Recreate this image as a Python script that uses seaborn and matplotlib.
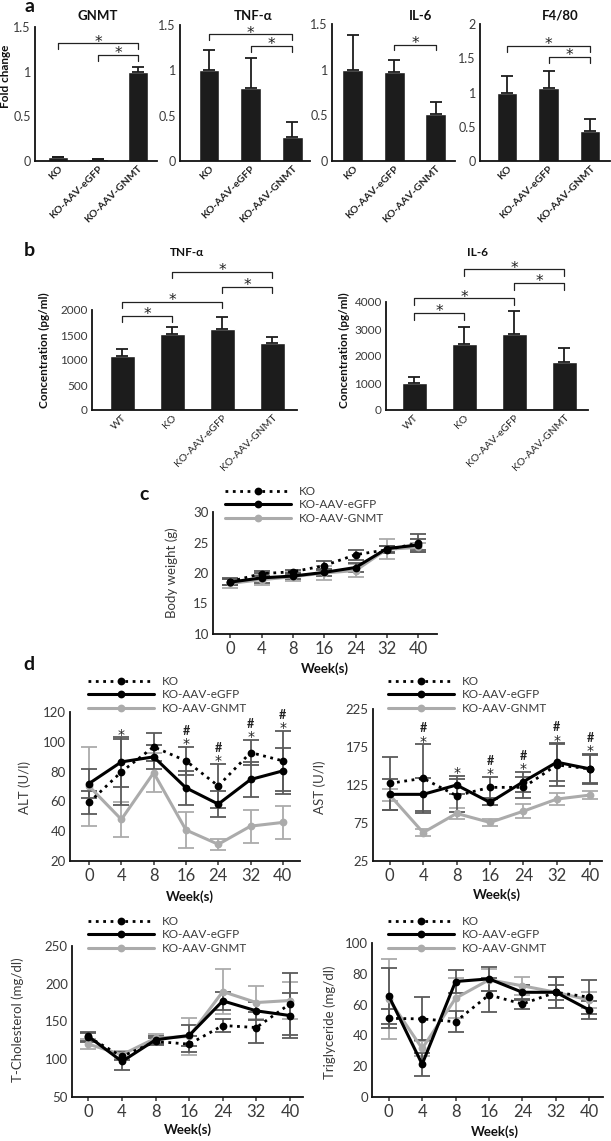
import numpy as np
import seaborn as sns
import matplotlib.pyplot as plt
from matplotlib.lines import Line2D

# ---- data ----
a_groups = ['KO', 'KO-AAV-eGFP', 'KO-AAV-GNMT']
gnmt_fc = [0.04, 0.02, 1.0]
gnmt_err = [0.01, 0.005, 0.05]
tnf_fc = [1.0, 0.81, 0.27]
tnf_err = [0.22, 0.33, 0.16]
il6_fc = [1.0, 0.97, 0.51]
il6_err = [0.38, 0.14, 0.14]
f480_fc = [1.0, 1.06, 0.44]
f480_err = [0.24, 0.25, 0.18]

b_groups = ['WT', 'KO', 'KO-AAV-eGFP', 'KO-AAV-GNMT']
tnf_conc = [1080, 1520, 1630, 1340]
tnf_conc_err = [140, 140, 240, 130]
il6_conc = [1000, 2460, 2810, 1790]
il6_conc_err = [210, 600, 850, 500]

# significance brackets: (group i, group j, height)
gnmt_sig = [(0, 2, 1.32), (1, 2, 1.19)]
tnf_sig = [(0, 2, 1.40), (1, 2, 1.27)]
il6_sig = [(1, 2, 1.27)]
f480_sig = [(0, 2, 1.68), (1, 2, 1.52)]
tnf_conc_sig = [(0, 1, 1880), (0, 2, 2170), (2, 3, 2470), (1, 3, 2760)]
il6_conc_sig = [(0, 1, 3600), (0, 2, 4140), (2, 3, 4710), (1, 3, 5210)]

weeks = ['0', '4', '8', '16', '24', '32', '40']
series = ['KO', 'KO-AAV-eGFP', 'KO-AAV-GNMT']

bw_ko = [18.6, 19.9, 20.2, 21.2, 23.0, 23.8, 24.9]
bw_ko_err = [0.5, 0.4, 0.3, 0.7, 0.8, 0.6, 1.5]
bw_egfp = [18.5, 19.2, 19.5, 20.1, 20.9, 24.0, 24.6]
bw_egfp_err = [0.5, 0.8, 0.5, 0.6, 0.8, 0.5, 0.9]
bw_gnmt = [18.3, 18.9, 19.4, 20.0, 20.4, 23.9, 24.2]
bw_gnmt_err = [0.7, 0.8, 0.7, 1.1, 1.1, 1.6, 0.7]

alt_ko = [59.3, 79.8, 96.6, 87.2, 70.4, 92.8, 87.2]
alt_ko_err = [7.5, 22, 9.5, 9.5, 15, 8.7, 20]
alt_egfp = [72.0, 86.5, 89.9, 69.1, 58.2, 74.7, 80.5]
alt_egfp_err = [9.5, 16.5, 8, 11.5, 9, 12, 15.5]
alt_gnmt = [70.2, 47.9, 79.2, 40.8, 31.2, 43.4, 45.9]
alt_gnmt_err = [26.5, 12, 13, 12, 3.5, 11, 11]
alt_marks = ['', '*', '', '#*', '#*', '#*', '#*']

ast_ko = [127.2, 133.8, 110.9, 121.9, 121.9, 151.4, 146.1]
ast_ko_err = [35, 45, 22, 14, 14, 28, 20]
ast_egfp = [112.7, 112.7, 125.0, 102.1, 129.4, 155.0, 146.1]
ast_egfp_err = [20, 22, 12, 4, 13, 25, 18]
ast_gnmt = [111.8, 62.4, 87.6, 75.7, 90.6, 106.5, 111.8]
ast_gnmt_err = [8, 5, 7, 5, 9, 8, 5]
ast_marks = ['', '#*', '*', '#*', '#*', '#*', '#*']

tc_ko = [129.3, 103.7, 123.6, 120.0, 144.7, 142.0, 173.3]
tc_ko_err = [6, 5, 5, 11, 8, 21, 41]
tc_egfp = [130.2, 97.1, 125.8, 131.5, 177.3, 164.1, 157.9]
tc_egfp_err = [6, 12, 5, 14, 12, 12, 30]
tc_gnmt = [120.0, 106.0, 128.0, 130.2, 189.6, 175.1, 177.8]
tc_gnmt_err = [7, 5, 6, 25, 30, 22, 25]

tg_ko = [51.1, 50.7, 48.9, 66.3, 60.4, 68.0, 64.8]
tg_ko_err = [6, 14, 7, 11, 3.5, 5, 11]
tg_egfp = [65.7, 21.3, 75.0, 76.7, 68.0, 68.0, 56.5]
tg_egfp_err = [18, 7.5, 7.5, 8, 5, 10, 6]
tg_gnmt = [63.7, 31.5, 64.1, 76.1, 72.2, 68.0, 63.0]
tg_gnmt_err = [26, 5, 13, 7, 6, 10, 5]

# ---- style ----
sns.set_style('ticks')
plt.rcParams['font.family'] = ['Lato', 'DejaVu Sans']
BAR = '#1c1c1c'
TXT = '#3a3a3a'
GRAY = '#ababab'
DARK_ERR = '#5a5a5a'
STAR = dict(family='DejaVu Sans', color='#222222')

W, H = 611, 1141
fig = plt.figure(figsize=(W / 100, H / 100), dpi=100)


def rect(l, r, t, b):
    return [l / W, 1 - b / H, (r - l) / W, (b - t) / H]


def ftext(x, y, s, **kw):
    kw.setdefault('ha', 'center')
    kw.setdefault('va', 'center')
    kw.setdefault('color', '#111111')
    fig.text(x / W, 1 - y / H, s, **kw)


def style_axes(ax, ysize):
    sns.despine(ax=ax)
    for s in ['left', 'bottom']:
        ax.spines[s].set_linewidth(1.3)
        ax.spines[s].set_color('#111111')
    ax.tick_params(axis='y', labelsize=ysize, labelcolor=TXT, length=0, pad=3)
    ax.set_xlabel('')
    ax.set_ylabel('')


def bar_panel(box, groups, vals, errs, sig, ylim, yticks, xlim, bold, tsize, drop, ysize):
    ax = fig.add_axes(rect(*box))
    sns.barplot(x=groups, y=vals, color=BAR, saturation=1, width=0.5,
                errorbar=None, ax=ax)
    x = np.arange(len(groups))
    ax.errorbar(x, vals, yerr=[np.zeros(len(vals)), errs], fmt='none',
                ecolor=BAR, elinewidth=1.3, capsize=4.5, capthick=1.3)
    ax.set_ylim(*ylim)
    ax.set_xlim(*xlim)
    ax.set_yticks(yticks)
    ax.set_yticklabels([f'{t:g}' for t in yticks])
    style_axes(ax, ysize)
    ax.tick_params(axis='x', length=0, pad=2)
    ax.set_xticks(x)
    ax.set_xticklabels(groups, rotation=45, ha='right', rotation_mode='anchor',
                       fontsize=tsize, fontweight='bold' if bold else 'normal',
                       color='#222222')
    for i, j, y in sig:
        ax.plot([i, i, j, j], [y - drop, y, y, y - drop], color='#222222',
                lw=0.9, clip_on=False)
        ax.annotate('*', ((i + j) / 2, y), xytext=(0, -2.5), textcoords='offset points',
                    ha='center', va='baseline', fontsize=11, annotation_clip=False,
                    **STAR)
    return ax


def line_panel(box, data, ylim, yticks, xlim, marks=None):
    ax = fig.add_axes(rect(*box))
    x = np.arange(len(weeks))
    styles = [(':', 'black', DARK_ERR), ('-', 'black', DARK_ERR), ('-', GRAY, GRAY)]
    order = [2, 0, 1]
    for k in order:
        vals, errs = data[k]
        ls, col, ecol = styles[k]
        ax.errorbar(x, vals, yerr=errs, fmt='none', ecolor=ecol,
                    elinewidth=1.3, capsize=5.5, capthick=1.3, zorder=2)
    for k in order:
        vals, errs = data[k]
        ls, col, ecol = styles[k]
        sns.lineplot(x=x, y=vals, ax=ax, color=col, linestyle=ls,
                     linewidth=2.2 if ls == '-' else 2.0, marker='o',
                     markersize=5.6, markeredgewidth=0, zorder=3)
    ax.set_ylim(*ylim)
    ax.set_xlim(*xlim)
    ax.set_yticks(yticks)
    style_axes(ax, 9.5)
    ax.set_xticks(x)
    ax.set_xticklabels(weeks, fontsize=12, color=TXT)
    ax.tick_params(axis='x', length=3, width=1.1, color='#333333', pad=2)
    if marks:
        for i, m in enumerate(marks):
            if not m:
                continue
            top = max(data[k][0][i] + data[k][1][i] for k in range(3))
            ax.annotate('*', (i, top), xytext=(0, -1), textcoords='offset points',
                        ha='center', va='baseline', fontsize=10, **STAR)
            if '#' in m:
                ax.annotate('#', (i, top), xytext=(0, 8.5), textcoords='offset points',
                            ha='center', va='baseline', fontsize=9,
                            fontweight='bold', color='#222222')
    handles = [Line2D([], [], color=styles[k][1], linestyle=styles[k][0],
                      lw=2.2 if styles[k][0] == '-' else 2.0,
                      marker='o', markersize=5.6, markeredgewidth=0) for k in range(3)]
    return ax, handles


def add_legend(ax, handles, box, lx, ty):
    l, r, t, b = box
    leg = ax.legend(handles, series, loc='upper left',
                    bbox_to_anchor=((lx - l) / (r - l), (b - ty) / (b - t)),
                    frameon=False, fontsize=8.5, handlelength=5.6, handletextpad=0.65,
                    labelspacing=0.2, borderpad=0, borderaxespad=0, numpoints=1)
    for t_ in leg.get_texts():
        t_.set_color(TXT)


# ---- panel a ----
bar_panel((35, 157, 27, 161), a_groups, gnmt_fc, gnmt_err, gnmt_sig, (0, 1.5),
          [0, 0.5, 1, 1.5], (-0.58, 2.48), True, 7.5, 0.07, 9)
bar_panel((180, 310, 25, 161), a_groups, tnf_fc, tnf_err, tnf_sig, (0, 1.5),
          [0, 0.5, 1, 1.5], (-0.7, 2.43), True, 7.5, 0.07, 9)
bar_panel((332, 455, 24, 161), a_groups, il6_fc, il6_err, il6_sig, (0, 1.5),
          [0, 0.5, 1, 1.5], (-0.5, 2.46), True, 7.5, 0.06, 9)
bar_panel((480, 610, 24, 161), a_groups, f480_fc, f480_err, f480_sig, (0, 2),
          [0, 0.5, 1, 1.5, 2], (-0.65, 2.48), True, 7.5, 0.085, 9)
ftext(30, 7, 'a', fontsize=14, fontweight='bold')
ftext(98, 16, 'GNMT', fontsize=9.5, fontweight='bold')
ftext(253, 16, 'TNF-α', fontsize=9.5, fontweight='bold')
ftext(421, 16, 'IL-6', fontsize=9.5, fontweight='bold')
ftext(560, 16, 'F4/80', fontsize=9.5, fontweight='bold')
ftext(6, 76, 'Fold change', fontsize=8.5, fontweight='bold', rotation=90)

# ---- panel b ----
bar_panel((92, 297, 310, 410), b_groups, tnf_conc, tnf_conc_err, tnf_conc_sig,
          (0, 2000), [0, 500, 1000, 1500, 2000], (-0.6, 3.5), False, 7.5, 125, 8.5)
bar_panel((386, 588, 302, 410), b_groups, il6_conc, il6_conc_err, il6_conc_sig,
          (0, 4000), [0, 1000, 2000, 3000, 4000], (-0.56, 3.48), False, 7.5, 260, 8.5)
ftext(29, 251, 'b', fontsize=14, fontweight='bold')
ftext(187, 252, 'TNF-α', fontsize=8.5, fontweight='bold')
ftext(478, 253, 'IL-6', fontsize=8.5, fontweight='bold')
ftext(44, 350, 'Concentration (pg/ml)', fontsize=8.5, fontweight='bold', rotation=90)
ftext(344, 350, 'Concentration (pg/ml)', fontsize=8.5, fontweight='bold', rotation=90)

# ---- panel c ----
box_c = (213, 437, 512, 634)
ax, hd = line_panel(box_c, [(bw_ko, bw_ko_err), (bw_egfp, bw_egfp_err),
                            (bw_gnmt, bw_gnmt_err)], (10, 30), [10, 15, 20, 25, 30],
                    (-0.55, 6.6))
add_legend(ax, hd, box_c, 225, 486)
ftext(144, 494, 'c', fontsize=14, fontweight='bold')
ftext(172, 573, 'Body weight (g)', fontsize=9.5, rotation=90, color=TXT)
ftext(325, 669, 'Week(s)', fontsize=9.5, fontweight='bold')

# ---- panel d ----
box_alt = (70, 300, 712, 861)
ax, hd = line_panel(box_alt, [(alt_ko, alt_ko_err), (alt_egfp, alt_egfp_err),
                              (alt_gnmt, alt_gnmt_err)], (20, 120),
                    [20, 40, 60, 80, 100, 120], (-0.59, 6.53), alt_marks)
add_legend(ax, hd, box_alt, 88, 676)
box_ast = (373, 602, 709, 861)
ax, hd = line_panel(box_ast, [(ast_ko, ast_ko_err), (ast_egfp, ast_egfp_err),
                              (ast_gnmt, ast_gnmt_err)], (25, 225),
                    [25, 75, 125, 175, 225], (-0.5, 6.35), ast_marks)
add_legend(ax, hd, box_ast, 388, 676)
box_tc = (72, 303, 946, 1097)
ax, hd = line_panel(box_tc, [(tc_ko, tc_ko_err), (tc_egfp, tc_egfp_err),
                             (tc_gnmt, tc_gnmt_err)], (50, 250),
                    [50, 100, 150, 200, 250], (-0.49, 6.39))
add_legend(ax, hd, box_tc, 88, 916)
box_tg = (372, 603, 943, 1097)
ax, hd = line_panel(box_tg, [(tg_ko, tg_ko_err), (tg_egfp, tg_egfp_err),
                             (tg_gnmt, tg_gnmt_err)], (0, 100),
                    [0, 20, 40, 60, 80, 100], (-0.5, 6.41))
add_legend(ax, hd, box_tg, 388, 916)

ftext(29, 664, 'd', fontsize=14, fontweight='bold')
ftext(25, 787, 'ALT (U/l)', fontsize=9.5, rotation=90, color=TXT)
ftext(320, 787, 'AST (U/l)', fontsize=9.5, rotation=90, color=TXT)
ftext(18, 1020, 'T-Cholesterol (mg/dl)', fontsize=9.5, rotation=90, color=TXT)
ftext(330, 1022, 'Triglyceride (mg/dl)', fontsize=9.5, rotation=90, color=TXT)
ftext(190, 897, 'Week(s)', fontsize=9.5, fontweight='bold')
ftext(497, 895, 'Week(s)', fontsize=9.5, fontweight='bold')
ftext(188, 1130, 'Week(s)', fontsize=9.5, fontweight='bold')
ftext(495, 1132, 'Week(s)', fontsize=9.5, fontweight='bold')

fig.savefig('out.png', dpi=100, facecolor='white')
